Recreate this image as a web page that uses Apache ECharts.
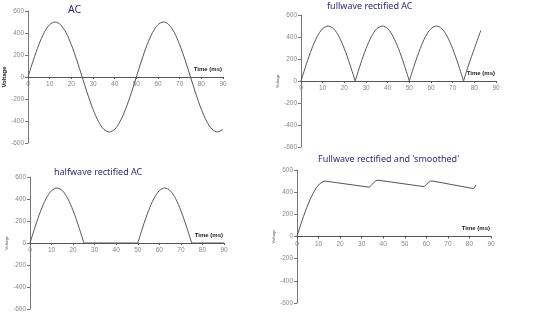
<!DOCTYPE html>
<html><head><meta charset="utf-8">
<script src="https://cdn.jsdelivr.net/npm/echarts@6/dist/echarts.min.js"></script>
<style>html,body{margin:0;padding:0;background:#fff}#c{width:540px;height:328px}</style>
</head><body><div id="c"></div>
<script>
// ---- data ----
var titles = ["AC", "fullwave rectified AC", "halfwave rectified AC", "Fullwave rectified and 'smoothed'"];
var xTicks = [0, 10, 20, 30, 40, 50, 60, 70, 80, 90];
var yTicks = [-600, -400, -200, 0, 200, 400, 600];

var acTime = [0,2.5,5,7.5,10,12.5,15,17.5,20,22.5,25,27.5,30,32.5,35,37.5,40,42.5,45,47.5,50,52.5,55,57.5,60,62.5,65,67.5,70,72.5,75,77.5,80,82.5,85,87.5,90];
var acVolt = [0,155,294,405,476,500,476,405,294,155,0,-155,-294,-405,-476,-500,-476,-405,-294,-155,0,155,294,405,476,500,476,405,294,155,0,-155,-294,-405,-476,-500,-476];

// null = pen lifted between arches (sharp cusps)
var fullTime = [0,2.5,5,7.5,10,12.5,15,17.5,20,22.5,25,25,25,27.5,30,32.5,35,37.5,40,42.5,45,47.5,50,50,50,52.5,55,57.5,60,62.5,65,67.5,70,72.5,75,75,75,77.5,80,83];
var fullVolt = [0,155,294,405,476,500,476,405,294,155,0,null,0,155,294,405,476,500,476,405,294,155,0,null,0,155,294,405,476,500,476,405,294,155,0,null,0,155,294,460];

var halfTime = [0,2.5,5,7.5,10,12.5,15,17.5,20,22.5,25,25,25,50,50,50,52.5,55,57.5,60,62.5,65,67.5,70,72.5,75,75,75,90];
var halfVolt = [0,155,294,405,476,500,476,405,294,155,0,null,0,0,null,0,155,294,405,476,500,476,405,294,155,0,null,0,0];

var smoothTime = [0,1.5,3,4.5,6,7.5,9,10.5,12,13,33.5,34.5,35.5,36.5,37.5,59,60,61,62,63,82,83];
var smoothVolt = [0,95,180,260,330,390,440,475,495,500,445,462,485,503,508,450,470,488,500,500,432,465];

// ---- chart ----
var grids = [
  {left: 28, top: 11, width: 195, height: 132},
  {left: 301, top: 15, width: 195, height: 132},
  {left: 30, top: 177, width: 194, height: 132},
  {left: 297, top: 170, width: 194, height: 133}
];
var titlePos = [
  {left: 68, top: 5, fontSize: 10.5},
  {left: 327, top: 2, fontSize: 9},
  {left: 54, top: 168, fontSize: 9},
  {left: 318, top: 155, fontSize: 9}
];
var series = [[acTime, acVolt, true], [fullTime, fullVolt, true], [halfTime, halfVolt, true], [smoothTime, smoothVolt, false]];

var option = {
  animation: false,
  backgroundColor: '#fff',
  title: titles.map(function (t, i) {
    return {text: t, left: titlePos[i].left, top: titlePos[i].top, padding: 0,
      textStyle: {fontFamily: 'Noto Sans', fontWeight: 'normal', fontSize: titlePos[i].fontSize, color: '#2b2b7a'}};
  }),
  grid: grids,
  xAxis: grids.map(function (g, i) {
    return {type: 'value', gridIndex: i, min: xTicks[0], max: xTicks[xTicks.length - 1], interval: 10,
      position: 'bottom', offset: -g.height / 2,
      name: 'Time (ms)', nameLocation: 'end', nameGap: 0,
      nameTextStyle: {fontFamily: 'Liberation Sans', fontWeight: 'bold', fontSize: 6, color: '#222', align: 'right', verticalAlign: 'bottom', padding: [0, 1, 5, 0]},
      axisLine: {onZero: false, lineStyle: {color: '#555', width: 1}},
      axisTick: {length: 2, lineStyle: {color: '#555'}},
      axisLabel: {fontSize: 6.5, color: '#888', margin: 4, fontFamily: 'Liberation Sans'},
      splitLine: {show: false}};
  }),
  yAxis: grids.map(function (g, i) {
    return {type: 'value', gridIndex: i, min: yTicks[0], max: yTicks[yTicks.length - 1], interval: 200,
      name: 'Voltage', nameLocation: 'middle', nameGap: i === 0 ? 12 : 14,
      nameTextStyle: {fontFamily: 'Liberation Sans', fontWeight: 'bold', fontSize: i === 0 ? 6 : 4, color: i === 0 ? '#222' : '#888'},
      axisLine: {show: true, lineStyle: {color: '#777', width: 1}},
      axisTick: {show: true, length: 3, lineStyle: {color: '#777'}},
      axisLabel: {fontSize: 6.5, color: '#888', margin: 4, fontFamily: 'Liberation Sans'},
      splitLine: {show: false}};
  }),
  series: series.map(function (s, i) {
    return {type: 'line', xAxisIndex: i, yAxisIndex: i, showSymbol: false, smooth: s[2] ? 0.3 : false,
      connectNulls: false,
      lineStyle: {color: '#555', width: 1},
      data: s[0].map(function (t, k) { return [t, s[1][k]]; })};
  })
};
echarts.init(document.getElementById('c'), null, {renderer: 'canvas'}).setOption(option);
</script></body></html>
